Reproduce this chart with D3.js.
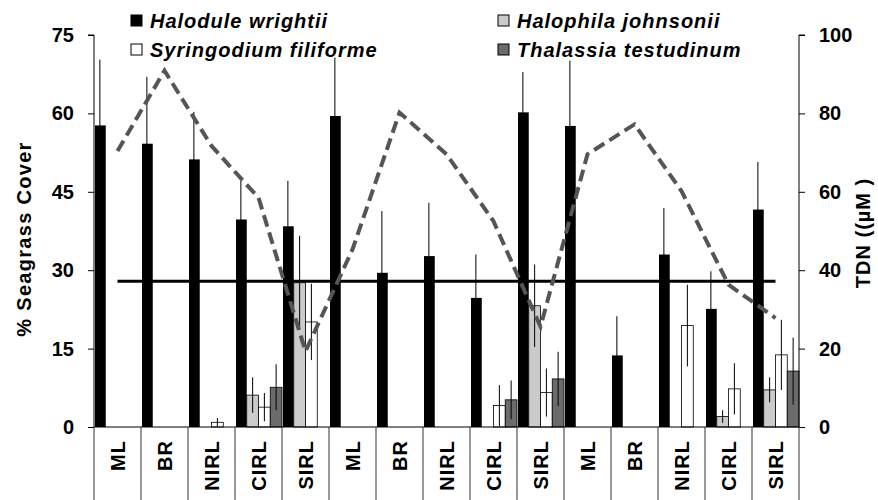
<!DOCTYPE html>
<html><head><meta charset="utf-8">
<script src="https://cdn.jsdelivr.net/npm/d3@7"></script>
<style>
html,body{margin:0;padding:0;background:#fff;}
svg text{font-family:"Liberation Sans",Arial,sans-serif;font-weight:bold;fill:#000;}
</style></head>
<body>
<svg id="c" width="878" height="500"></svg>
<script>
const categories = ["ML","BR","NIRL","CIRL","SIRL","ML","BR","NIRL","CIRL","SIRL","ML","BR","NIRL","CIRL","SIRL"];
const seriesNames = ["Halodule wrightii","Halophila johnsonii","Syringodium filiforme","Thalassia testudinum"];
const halodule      = [57.7,54.2,51.2,39.7,38.4, 59.5,29.5,32.7,24.7,60.2, 57.6,13.7,33.0,22.6,41.6];
const haloduleErr   = [12.6,12.8, 9.1, 7.4, 8.7, 11.2,11.8,10.2, 8.3, 7.7, 12.5, 7.5, 8.9, 7.2, 9.1];
const halophila     = [0,0,0,6.1,27.6, 0,0,0,0,23.2, 0,0,0,2.0,7.1];
const halophilaErr  = [0,0,0,3.4, 9.0, 0,0,0,0, 7.9, 0,0,0,1.2,2.4];
const syringodium   = [0,0,0.9,3.8,20.1, 0,0,0,4.1,6.6, 0,0,19.4,7.3,13.8];
const syringodiumErr= [0,0,0.8,2.7, 7.3, 0,0,0,3.9,4.6, 0,0, 7.8,4.9, 6.7];
const thalassia     = [0,0,0,7.6,0, 0,0,0,5.2,9.2, 0,0,0,0,10.7];
const thalassiaErr  = [0,0,0,4.4,0, 0,0,0,3.7,5.2, 0,0,0,0, 6.4];
const tdn = [70.4,90.9,71.7,58.5,19.3, 45.3,80.2,69.6,52.5,25.6, 69.6,77.2,60.2,36.3,27.8];
const tdnThreshold = 37.2;
const leftTicks = [0,15,30,45,60,75];
const rightTicks = [0,20,40,60,80,100];

const seriesValues = [halodule, halophila, syringodium, thalassia];
const seriesErrors = [haloduleErr, halophilaErr, syringodiumErr, thalassiaErr];
const seriesColors = ["#000000","#cbcbcb","#ffffff","#6b6b6b"];

const svg = d3.select("#c");
const L = 94, R = 799, T = 35, B = 427;
const idx = d3.range(categories.length);
const x = d3.scaleBand().domain(idx).range([L, R]).padding(0);
const xs = d3.scaleBand().domain(d3.range(4)).range([0, x.bandwidth()]).padding(0);
const yL = d3.scaleLinear().domain([0,75]).range([B,T]);
const yR = d3.scaleLinear().domain([0,100]).range([B,T]);

// bars
seriesValues.forEach((vals, s) => {
  svg.append("g").selectAll("rect").data(idx.filter(i => vals[i] > 0)).join("rect")
    .attr("x", i => x(i) + xs(s) + (s===0?1:0))
    .attr("width", xs.bandwidth() - (s===0?1:0))
    .attr("y", i => yL(vals[i]))
    .attr("height", i => B - yL(vals[i]))
    .attr("fill", seriesColors[s])
    .attr("stroke", s===0 ? "none" : "#000")
    .attr("stroke-width", s===0 ? 0 : 0.8);
});
// error bars
seriesValues.forEach((vals, s) => {
  const err = seriesErrors[s];
  svg.append("g").selectAll("line").data(idx.filter(i => vals[i] > 0)).join("line")
    .attr("x1", i => x(i) + xs(s) + xs.bandwidth()/2)
    .attr("x2", i => x(i) + xs(s) + xs.bandwidth()/2)
    .attr("y1", i => yL(vals[i] + err[i]))
    .attr("y2", i => yL(Math.max(0, vals[i] - err[i])))
    .attr("stroke", "#000").attr("stroke-width", 1);
});

// threshold line
svg.append("line")
  .attr("x1", x(0) + x.bandwidth()/2).attr("x2", x(idx.length-1) + x.bandwidth()/2)
  .attr("y1", yR(tdnThreshold)).attr("y2", yR(tdnThreshold))
  .attr("stroke", "#000").attr("stroke-width", 3);

// TDN dashed line
svg.append("path").datum(idx)
  .attr("d", d3.line().x(i => x(i) + x.bandwidth()/2).y(i => yR(tdn[i])))
  .attr("fill", "none").attr("stroke", "#555").attr("stroke-width", 4)
  .attr("stroke-dasharray", "12,6");

// left axis
const gl = svg.append("g").attr("transform", `translate(${L},0)`)
  .call(d3.axisLeft(yL).tickValues(leftTicks).tickSize(6).tickPadding(14));
gl.select(".domain").attr("stroke","#000").attr("stroke-width",1).attr("d", `M-6,${T}H0V${B}`);
gl.selectAll(".tick line").attr("stroke","#000");
gl.selectAll(".tick text").style("font-size","20px").style("font-family","Liberation Sans, Arial, sans-serif").style("font-weight","bold");

// right axis
const gr = svg.append("g").attr("transform", `translate(${R},0)`)
  .call(d3.axisRight(yR).tickValues(rightTicks).tickSize(6).tickPadding(14));
gr.select(".domain").attr("stroke","#000").attr("stroke-width",1).attr("d", `M6,${T}H0V${B}`);
gr.selectAll(".tick line").attr("stroke","#000");
gr.selectAll(".tick text").style("font-size","20px").style("font-family","Liberation Sans, Arial, sans-serif").style("font-weight","bold");

// bottom baseline & category boxes
svg.append("line").attr("x1", L).attr("x2", R).attr("y1", B).attr("y2", B).attr("stroke","#000");
svg.append("g").selectAll("line").data(d3.range(categories.length+1)).join("line")
  .attr("x1", i => L + i*x.bandwidth()).attr("x2", i => L + i*x.bandwidth())
  .attr("y1", B).attr("y2", 500).attr("stroke","#333").attr("stroke-width",1);
svg.append("g").selectAll("text").data(idx).join("text")
  .attr("transform", i => `translate(${x(i)+x.bandwidth()/2+7},440) rotate(-90)`)
  .attr("text-anchor","end")
  .style("font-size","20px").style("letter-spacing","1px")
  .text(i => categories[i]);

// axis titles
svg.append("text").attr("transform","translate(31,239) rotate(-90)")
  .attr("text-anchor","middle").style("font-size","20px").style("letter-spacing","1.3px")
  .text("% Seagrass Cover");
svg.append("text").attr("transform","translate(870,233) rotate(-90)")
  .attr("text-anchor","middle").style("font-size","20px").style("letter-spacing","1px")
  .text("TDN ((µM )");

// legend
const legendPos = [[131,28],[498,28],[131,57],[498,57]];
seriesNames.forEach((name, s) => {
  const [lx, ly] = legendPos[s];
  svg.append("rect").attr("x", lx).attr("y", ly-13).attr("width", 11).attr("height", 11)
    .attr("fill", seriesColors[s]).attr("stroke","#000").attr("stroke-width", 1);
  svg.append("text").attr("x", lx+19).attr("y", ly)
    .style("font-size","20px").style("font-style","italic").style("letter-spacing","1px")
    .text(name);
});
</script>
</body></html>
